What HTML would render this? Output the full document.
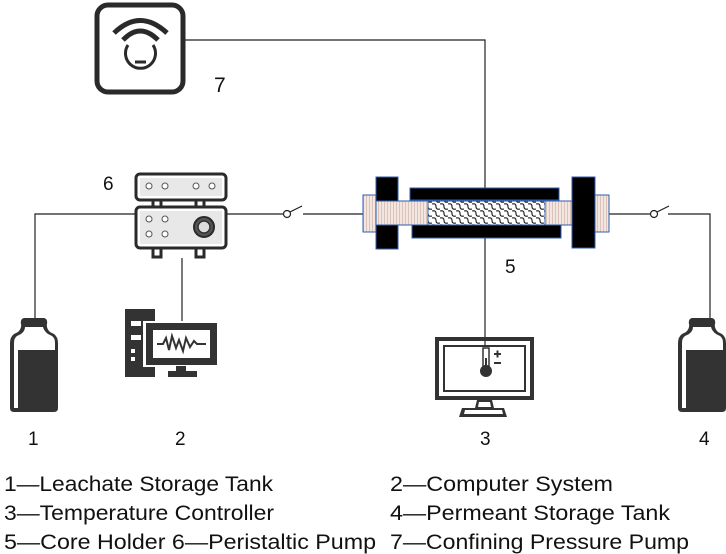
<!DOCTYPE html>
<html><head><meta charset="utf-8"><style>
html,body{margin:0;padding:0;background:#fff;}
svg{display:block;}
text{font-family:"Liberation Sans",Arial,sans-serif;fill:#111;}
</style></head><body>
<svg width="726" height="554" viewBox="0 0 726 554" xmlns="http://www.w3.org/2000/svg">
<defs>
<pattern id="mesh" width="8" height="7" patternUnits="userSpaceOnUse">
<rect width="8" height="7" fill="#fff"/>
<path d="M0 1 Q4 0 4 3.5 Q4 7 8 6" fill="none" stroke="#222" stroke-width="1.1"/>
</pattern>
<pattern id="stripe" width="3" height="4" patternUnits="userSpaceOnUse">
<rect width="3" height="4" fill="#f3e6e0"/>
<line x1="0.5" y1="0" x2="0.5" y2="4" stroke="#d9c3bb" stroke-width="1"/>
</pattern>
</defs>

<!-- connector lines -->
<g stroke="#222" stroke-width="1.2" fill="none">
<path d="M185 40 H485 V188"/>
<path d="M485 238 V365"/>
<path d="M35 318 V214 H136"/>
<path d="M226 214 H283"/>
<path d="M303 214 H363"/>
<path d="M182 258 V323"/>
<path d="M609 214 H650"/>
<path d="M668 214 H710 V318"/>
</g>
<!-- switches -->
<g stroke="#222" stroke-width="1.2" fill="#fff">
<circle cx="287" cy="214" r="3.5"/><line x1="290" y1="212" x2="302" y2="206"/>
<circle cx="654" cy="214" r="3.5"/><line x1="657" y1="212" x2="669" y2="206"/>
</g>

<!-- confining pressure pump -->
<rect x="97" y="5" width="86" height="87" rx="11" fill="#fff" stroke="#2a2a2a" stroke-width="5"/>
<path d="M114 33 Q140 8 167 33" fill="none" stroke="#2a2a2a" stroke-width="5"/>
<path d="M123 40 Q140 22 158 40" fill="none" stroke="#2a2a2a" stroke-width="5"/>
<path d="M128 45 A15 15 0 1 0 153 45" fill="none" stroke="#2a2a2a" stroke-width="3"/>
<path d="M135 62 H146" stroke="#2a2a2a" stroke-width="3"/>
<text x="214" y="92" font-size="21">7</text>

<!-- peristaltic pump -->
<text x="103" y="190" font-size="19">6</text>
<g stroke="#2a2a2a" stroke-width="3">
<rect x="136" y="174" width="90" height="26" rx="4" fill="#fff"/>
<rect x="140" y="178" width="82" height="18" fill="#e8e8e8" stroke="none"/>
<rect x="153" y="200" width="8" height="7" fill="#fff"/>
<rect x="196" y="200" width="8" height="7" fill="#fff"/>
<rect x="136" y="207" width="90" height="41" rx="4" fill="#fff"/>
<rect x="140" y="211" width="82" height="33" fill="#e8e8e8" stroke="none"/>
<rect x="153" y="248" width="8" height="9" fill="#fff"/>
<rect x="196" y="248" width="8" height="9" fill="#fff"/>
</g>
<g fill="#fff" stroke="#555" stroke-width="1">
<circle cx="149" cy="186" r="3"/><circle cx="165" cy="186" r="3"/><circle cx="196" cy="186" r="3"/><circle cx="212" cy="186" r="3"/>
<circle cx="149" cy="219" r="3"/><circle cx="165" cy="219" r="3"/><circle cx="149" cy="234" r="3"/><circle cx="165" cy="234" r="3"/>
</g>
<circle cx="204" cy="227" r="10" fill="#555" stroke="#2a2a2a" stroke-width="2"/>
<circle cx="204" cy="227" r="6" fill="#ddd" stroke="#333" stroke-width="1.5"/>

<!-- core holder -->
<g stroke="#2f5fb0" stroke-width="1">
<rect x="363" y="195" width="13" height="37" fill="url(#stripe)"/>
<rect x="595" y="195" width="14" height="37" fill="url(#stripe)"/>
<rect x="376" y="177" width="22" height="72" fill="#000"/>
<rect x="572" y="177" width="23" height="71" fill="#000"/>
<rect x="410" y="188" width="149" height="12" fill="#000"/>
<rect x="412" y="225" width="149" height="13" fill="#000"/>
<rect x="376" y="201" width="196" height="24" fill="url(#stripe)"/>
<rect x="428" y="201" width="117" height="24" fill="url(#mesh)"/>
</g>
<text x="505" y="273" font-size="19">5</text>

<!-- bottles -->
<g id="b1">
<path d="M28 318 H44 Q48 319 47 324 Q46 328 50 332 L54 334 Q58 337 58 343 V408 Q58 412 54 412 H14 Q10 412 10 408 V343 Q10 337 14 334 L18 332 Q22 328 21 324 Q20 319 24 318 Z" fill="#333"/>
<path d="M25 327 H43 Q44 331 48 334 L52 336 Q55 338 55 343 V350 H18 V408 H14 V343 Q14 338 17 336 L21 334 Q25 331 25 327 Z" fill="#fff"/>
</g>
<use href="#b1" x="668"/>

<!-- computer -->
<rect x="125" y="309" width="30" height="68" fill="#333"/>
<rect x="131" y="321" width="10" height="5" fill="#fff"/>
<rect x="131" y="335" width="10" height="5" fill="#fff"/>
<rect x="131" y="349" width="4" height="4" fill="#fff"/>
<rect x="131" y="357" width="4" height="4" fill="#fff"/>
<rect x="143" y="321" width="76" height="46" fill="#fff"/>
<rect x="146" y="323" width="71" height="42" fill="#333"/>
<rect x="153" y="330" width="57" height="28" fill="#fff"/>
<path d="M157 344 H163 L166 338 L169 350 L172 336 L176 348 L179 340 L183 351 L186 338 L190 347 L194 341 L197 344 H206" fill="none" stroke="#333" stroke-width="2"/>
<rect x="176" y="366" width="10" height="5" fill="#333"/>
<rect x="168" y="371" width="29" height="6" fill="#333"/>

<!-- temperature controller -->
<rect x="437" y="339" width="95" height="59" fill="none" stroke="#333" stroke-width="4"/>
<rect x="444" y="346" width="81" height="45" fill="#fff" stroke="#333" stroke-width="2"/>
<path d="M477 400 H492 L494 408 H504 L507 417 H459 L462 408 H475 Z" fill="#333"/>
<path d="M479 402 H490 L491 407 H478 Z M465 410 H502 L503 414 H464 Z" fill="#fff"/>
<rect x="483" y="348" width="6" height="18" fill="#fff" stroke="#333" stroke-width="1.5"/>
<rect x="485" y="358" width="2" height="8" fill="#333"/>
<circle cx="486" cy="371" r="6" fill="#333"/>
<path d="M494 354 H501 M497.5 350.5 V357.5 M494 363 H501" stroke="#333" stroke-width="2"/>

<!-- number labels -->
<g font-size="19">
<text x="28" y="445">1</text>
<text x="175" y="445">2</text>
<text x="480" y="445">3</text>
<text x="699" y="445">4</text>
</g>

<!-- legend -->
<g font-size="21">
<text x="4" y="491" textLength="269" lengthAdjust="spacingAndGlyphs">1—Leachate Storage Tank</text>
<text x="390" y="491" textLength="223" lengthAdjust="spacingAndGlyphs">2—Computer System</text>
<text x="4" y="520" textLength="270" lengthAdjust="spacingAndGlyphs">3—Temperature Controller</text>
<text x="390" y="520" textLength="280" lengthAdjust="spacingAndGlyphs">4—Permeant Storage Tank</text>
<text x="4" y="549" textLength="372" lengthAdjust="spacingAndGlyphs">5—Core Holder  6—Peristaltic Pump</text>
<text x="390" y="549" textLength="299" lengthAdjust="spacingAndGlyphs">7—Confining Pressure Pump</text>
</g>
</svg>
</body></html>
